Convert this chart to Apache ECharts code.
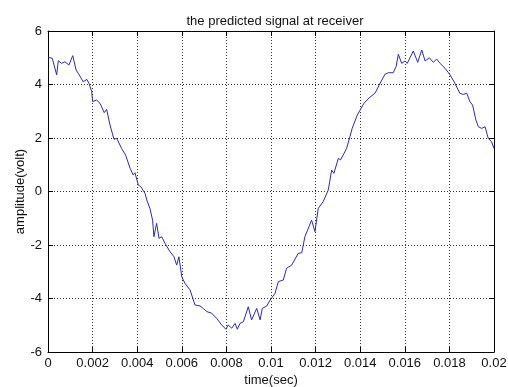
<!DOCTYPE html>
<html>
<head>
<meta charset="utf-8">
<script src="https://cdn.jsdelivr.net/npm/echarts@6/dist/echarts.min.js"></script>
<style>
  html, body { margin: 0; padding: 0; background: #fff; }
  #chart { width: 508px; height: 387px; }
</style>
</head>
<body>
<div id="chart"></div>
<script>
// Sampled time instants (seconds) of the predicted signal
const timeSec = [
  0.00000, 0.00019, 0.00039, 0.00046, 0.00061, 0.00076, 0.00094, 0.00111, 0.00126, 0.00140,
  0.00158, 0.00174, 0.00184, 0.00196, 0.00200, 0.00218, 0.00233, 0.00252, 0.00263, 0.00278,
  0.00296, 0.00308, 0.00330, 0.00348, 0.00368, 0.00382, 0.00390, 0.00405, 0.00416, 0.00435,
  0.00443, 0.00450, 0.00457, 0.00469, 0.00475, 0.00487, 0.00498, 0.00510, 0.00525, 0.00547,
  0.00565, 0.00577, 0.00587, 0.00600, 0.00614, 0.00637, 0.00659, 0.00682, 0.00696, 0.00712,
  0.00734, 0.00756, 0.00779, 0.00798, 0.00808, 0.00824, 0.00839, 0.00849, 0.00861, 0.00876,
  0.00898, 0.00913, 0.00936, 0.00951, 0.00961, 0.00981, 0.00996, 0.01018, 0.01033, 0.01055,
  0.01070, 0.01093, 0.01122, 0.01138, 0.01152, 0.01160, 0.01182, 0.01197, 0.01212, 0.01234,
  0.01257, 0.01272, 0.01282, 0.01302, 0.01312, 0.01339, 0.01354, 0.01364, 0.01387, 0.01417,
  0.01444, 0.01466, 0.01489, 0.01511, 0.01526, 0.01548, 0.01561, 0.01571, 0.01586, 0.01601,
  0.01611, 0.01638, 0.01658, 0.01676, 0.01691, 0.01710, 0.01728, 0.01743, 0.01758, 0.01780,
  0.01803, 0.01825, 0.01847, 0.01862, 0.01878, 0.01892, 0.01904, 0.01919, 0.01930, 0.01945,
  0.01960, 0.01974, 0.01989, 0.02000
];

// Amplitude (volt) at each time instant
const amplitudeVolt = [
   5.02,  4.98,  4.36,  4.89,  4.79,  4.85,  4.73,  5.08,  4.54,  4.36,
   4.10,  4.19,  4.04,  3.73,  3.36,  3.42,  3.30,  2.95,  3.07,  2.49,
   1.95,  1.99,  1.61,  1.36,  0.87,  0.62,  0.70,  0.24,  0.18, -0.07,
  -0.32, -0.38, -0.63, -1.07, -1.69, -1.19, -1.75, -1.69, -1.94, -2.25,
  -2.44, -2.75, -2.44, -3.19, -3.43, -3.68, -4.24, -4.28, -4.37, -4.49,
  -4.55, -4.74, -4.99, -5.15, -4.99, -5.11, -4.93, -5.15, -4.93, -4.87,
  -4.31, -4.80, -4.37, -4.80, -4.37, -4.28, -4.06, -3.81, -3.37, -3.31,
  -2.87, -2.75, -2.31, -2.29, -1.69, -1.75, -1.07, -1.50, -0.63, -0.38,
   0.06,  0.80,  0.68,  1.24,  1.18,  1.61,  2.05,  2.36,  2.86,  3.30,
   3.53,  3.67,  4.04,  4.38,  4.44,  4.44,  4.67,  5.13,  4.79,  4.88,
   4.79,  5.25,  4.83,  5.29,  4.88,  5.00,  4.83,  4.95,  4.79,  4.61,
   4.36,  4.04,  3.67,  3.63,  3.67,  3.36,  3.23,  2.67,  2.42,  2.36,
   2.42,  1.99,  1.86,  1.61
];

// Axis tick labels
const xTickLabels = ['0', '0.002', '0.004', '0.006', '0.008', '0.01', '0.012', '0.014', '0.016', '0.018', '0.02'];
const yTickLabels = ['-6', '-4', '-2', '0', '2', '4', '6'];

const FONT = "'Liberation Sans', Arial, sans-serif";
const X_STEP = 0.002, Y_STEP = 2, Y_MIN = -6;

const frameAxis = {
  axisLine: { show: true, onZero: false, lineStyle: { color: '#000', width: 1 } },
  axisTick: { show: true, inside: true, length: 5, lineStyle: { color: '#000' } },
};

const chart = echarts.init(document.getElementById('chart'), null, { renderer: 'canvas' });
chart.setOption({
  animation: false,
  backgroundColor: '#fff',
  title: {
    text: 'the predicted signal at receiver',
    left: 270, top: 10, textAlign: 'center',
    textStyle: { fontFamily: FONT, fontSize: 13, fontWeight: 'normal', color: '#111' }
  },
  grid: { left: 48, top: 31, width: 446, height: 321, containLabel: false, outerBoundsMode: 'none' },
  xAxis: [{
    type: 'value', min: 0, max: 0.02, interval: X_STEP, position: 'bottom',
    name: 'time(sec)', nameLocation: 'middle', nameGap: 22, nameMoveOverlap: false,
    nameTextStyle: { fontFamily: FONT, fontSize: 13, color: '#111' },
    ...frameAxis,
    axisLabel: {
      fontFamily: FONT, fontSize: 13, color: '#111', margin: 5,
      formatter: v => xTickLabels[Math.round(v / X_STEP)]
    },
    splitLine: { show: true, lineStyle: { color: '#333', type: [1, 2], width: 1 } }
  }, {
    type: 'value', min: 0, max: 0.02, interval: X_STEP, position: 'top',
    ...frameAxis, axisLabel: { show: false }, splitLine: { show: false }
  }],
  yAxis: [{
    type: 'value', min: Y_MIN, max: 6, interval: Y_STEP, position: 'left',
    name: 'amplitude(volt)', nameLocation: 'middle', nameGap: 21, nameRotate: 90, nameMoveOverlap: false,
    nameTextStyle: { fontFamily: FONT, fontSize: 13, color: '#111' },
    ...frameAxis,
    axisLabel: {
      fontFamily: FONT, fontSize: 13, color: '#111', margin: 6,
      formatter: v => yTickLabels[Math.round((v - Y_MIN) / Y_STEP)]
    },
    splitLine: { show: true, lineStyle: { color: '#333', type: [1, 2], width: 1 } }
  }, {
    type: 'value', min: Y_MIN, max: 6, interval: Y_STEP, position: 'right',
    ...frameAxis, axisLabel: { show: false }, splitLine: { show: false }
  }],
  series: [{
    type: 'line',
    data: timeSec.map((t, i) => [t, amplitudeVolt[i]]),
    showSymbol: false,
    lineStyle: { color: '#2b2bb5', width: 1 },
    xAxisIndex: 0, yAxisIndex: 0
  }]
});
</script>
</body>
</html>
